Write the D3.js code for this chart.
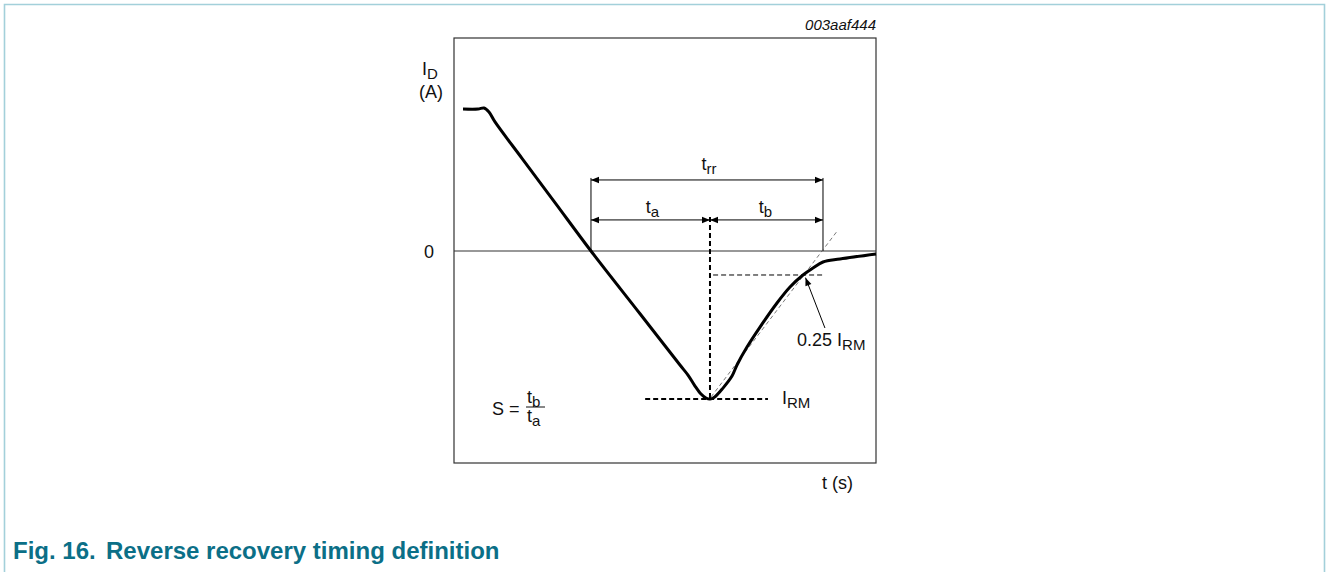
<!DOCTYPE html>
<html>
<head>
<meta charset="utf-8">
<script src="https://cdn.jsdelivr.net/npm/d3@7"></script>
<style>
    body { margin: 0; background: #fff; }
    svg { display: block; font-family: "Liberation Sans", Arial, sans-serif; }
</style>
</head>
<body>
<svg id="chart" width="1327" height="572"></svg>
<script>
// Diode current curve (time in arbitrary units, current in units of I_RM)
var curveT = [2.13, 5.69, 7.11, 8.29, 9.72, 16.11, 23.93, 32.46, 44.08, 53.55, 55.45, 57.11, 58.53, 59.72, 60.66,
    61.61, 63.74, 65.88, 67.06, 69.43, 72.51, 76.54, 79.62, 82.70, 85.07, 87.44, 91.47, 100];
var curveI = [0.959, 0.959, 0.966, 0.939, 0.872, 0.626, 0.327, 0, -0.424, -0.770, -0.838, -0.912, -0.966, -0.993, -1.0,
    -0.990, -0.926, -0.845, -0.770, -0.649, -0.514, -0.351, -0.243, -0.162, -0.115, -0.074, -0.054, -0.020];

// timing markers
var tStart = 32.46, tPeak = 60.66, tEnd = 87.44;
var iRM = -1, iQuarter = -0.162;
var trrLevel = 0.48, tabLevel = 0.21;
var tangentT = [60.9, 91.0], tangentI = [-0.986, 0.142];

var svg = d3.select("#chart");
var margin = { top: 38, left: 454, right: 451, bottom: 109 };
var width = +svg.attr("width") - margin.left - margin.right,
    height = +svg.attr("height") - margin.top - margin.bottom;

// page frame
svg.append("path")
    .attr("d", "M4.5,572 V4.5 H1324.5 V572")
    .attr("fill", "none")
    .attr("stroke", "#a3d0da")
    .attr("stroke-width", 1.6);

var g = svg.append("g")
    .attr("transform", "translate(" + margin.left + "," + margin.top + ")");

var xScale = d3.scaleLinear().domain([0, 100]).range([0, width]);
var yScale = d3.scaleLinear().domain([-1.432, 1.439]).range([height, 0]);

var defs = svg.append("defs");
defs.append("marker")
    .attr("id", "arr")
    .attr("viewBox", "0 0 10 10")
    .attr("refX", 10).attr("refY", 5)
    .attr("markerWidth", 10).attr("markerHeight", 8)
    .attr("markerUnits", "userSpaceOnUse")
    .attr("orient", "auto-start-reverse")
    .append("path")
    .attr("d", "M0,1 L10,5 L0,9 Z")
    .attr("fill", "#000");

// plot box
g.append("rect")
    .attr("width", width).attr("height", height)
    .attr("fill", "none").attr("stroke", "#333").attr("stroke-width", 1.2);

// zero line
g.append("line")
    .attr("x1", 0).attr("x2", width)
    .attr("y1", yScale(0)).attr("y2", yScale(0))
    .attr("stroke", "#333").attr("stroke-width", 1.1);

function hline(t1, t2, i, sw, dash, col) {
    return g.append("line")
        .attr("x1", xScale(t1)).attr("x2", xScale(t2))
        .attr("y1", yScale(i)).attr("y2", yScale(i))
        .attr("stroke", col || "#000").attr("stroke-width", sw)
        .attr("stroke-dasharray", dash);
}

// extension lines for trr
[tStart, tEnd].forEach(function(t) {
    g.append("line")
        .attr("x1", xScale(t)).attr("x2", xScale(t))
        .attr("y1", yScale(trrLevel) - 2).attr("y2", yScale(0))
        .attr("stroke", "#000").attr("stroke-width", 1);
});

// dimension arrows
hline(tStart, tEnd, trrLevel, 1).attr("marker-start", "url(#arr)").attr("marker-end", "url(#arr)");
hline(tStart, tPeak, tabLevel, 1).attr("marker-start", "url(#arr)").attr("marker-end", "url(#arr)");
hline(tPeak, tEnd, tabLevel, 1).attr("marker-start", "url(#arr)").attr("marker-end", "url(#arr)");

// vertical dashed at I_RM
g.append("line")
    .attr("x1", xScale(tPeak)).attr("x2", xScale(tPeak))
    .attr("y1", yScale(tabLevel) - 3).attr("y2", yScale(iRM))
    .attr("stroke", "#000").attr("stroke-width", 2)
    .attr("stroke-dasharray", "5,3");

// I_RM level and 0.25 I_RM level
hline(45.3, 74.4, iRM, 2, "5,3");
hline(61.4, tEnd, iQuarter, 1, "5,3");

// tangent line
g.append("line")
    .attr("x1", xScale(tangentT[0])).attr("x2", xScale(tangentT[1]))
    .attr("y1", yScale(tangentI[0])).attr("y2", yScale(tangentI[1]))
    .attr("stroke", "#555").attr("stroke-width", 0.8)
    .attr("stroke-dasharray", "4,3");

// the curve
var line = d3.line()
    .x(function(d) { return xScale(d[0]); })
    .y(function(d) { return yScale(d[1]); })
    .curve(d3.curveCatmullRom.alpha(0.5));

g.append("path")
    .datum(d3.zip(curveT, curveI))
    .attr("d", line)
    .attr("fill", "none")
    .attr("stroke", "#000")
    .attr("stroke-width", 3)
    .attr("stroke-linejoin", "round");

// pointer for 0.25 I_RM
g.append("line")
    .attr("x1", xScale(87.9)).attr("y1", yScale(-0.52))
    .attr("x2", xScale(83.3)).attr("y2", yScale(-0.18))
    .attr("stroke", "#000").attr("stroke-width", 1)
    .attr("marker-end", "url(#arr)");

// texts
function label(x, y, main, sub, anchor, size) {
    var t = svg.append("text")
        .attr("x", x).attr("y", y)
        .attr("text-anchor", anchor || "start")
        .style("font-size", (size || 18) + "px")
        .attr("fill", "#111");
    t.append("tspan").text(main);
    if (sub) {
        t.append("tspan").attr("dy", 4).style("font-size", "15px").text(sub);
    }
    return t;
}

var X = function(t) { return margin.left + xScale(t); };
var Y = function(i) { return margin.top + yScale(i); };

label((X(tStart) + X(tEnd)) / 2 + 2, Y(trrLevel) - 10, "t", "rr", "middle");
label((X(tStart) + X(tPeak)) / 2 + 2, Y(tabLevel) - 7, "t", "a", "middle");
label((X(tPeak) + X(tEnd)) / 2 - 1, Y(tabLevel) - 7, "t", "b", "middle");
label(782, Y(iRM) + 5, "I", "RM");
label(797, 346, "0.25 I", "RM");
label(422, 75, "I", "D");
label(431, 98, "(A)", null, "middle");
label(434, Y(0) + 7, "0", null, "end");
label(822, 489, "t (s)");

// S = tb / ta
label(492, 415, "S =");
label(527, 403, "t", "b");
label(527, 422, "t", "a");
svg.append("line")
    .attr("x1", 526).attr("x2", 545)
    .attr("y1", 407).attr("y2", 407)
    .attr("stroke", "#111").attr("stroke-width", 1);

svg.append("text")
    .attr("x", margin.left + width).attr("y", 30)
    .attr("text-anchor", "end")
    .style("font-size", "15px")
    .style("font-style", "italic")
    .attr("fill", "#111")
    .text("003aaf444");

// caption
var cap = svg.append("text")
    .attr("y", 559)
    .attr("fill", "#0b6f87")
    .style("font-size", "24px")
    .style("font-weight", "bold");
cap.append("tspan").attr("x", 13).text("Fig. 16.");
cap.append("tspan").attr("x", 106).text("Reverse recovery timing definition");
</script>
</body>
</html>
